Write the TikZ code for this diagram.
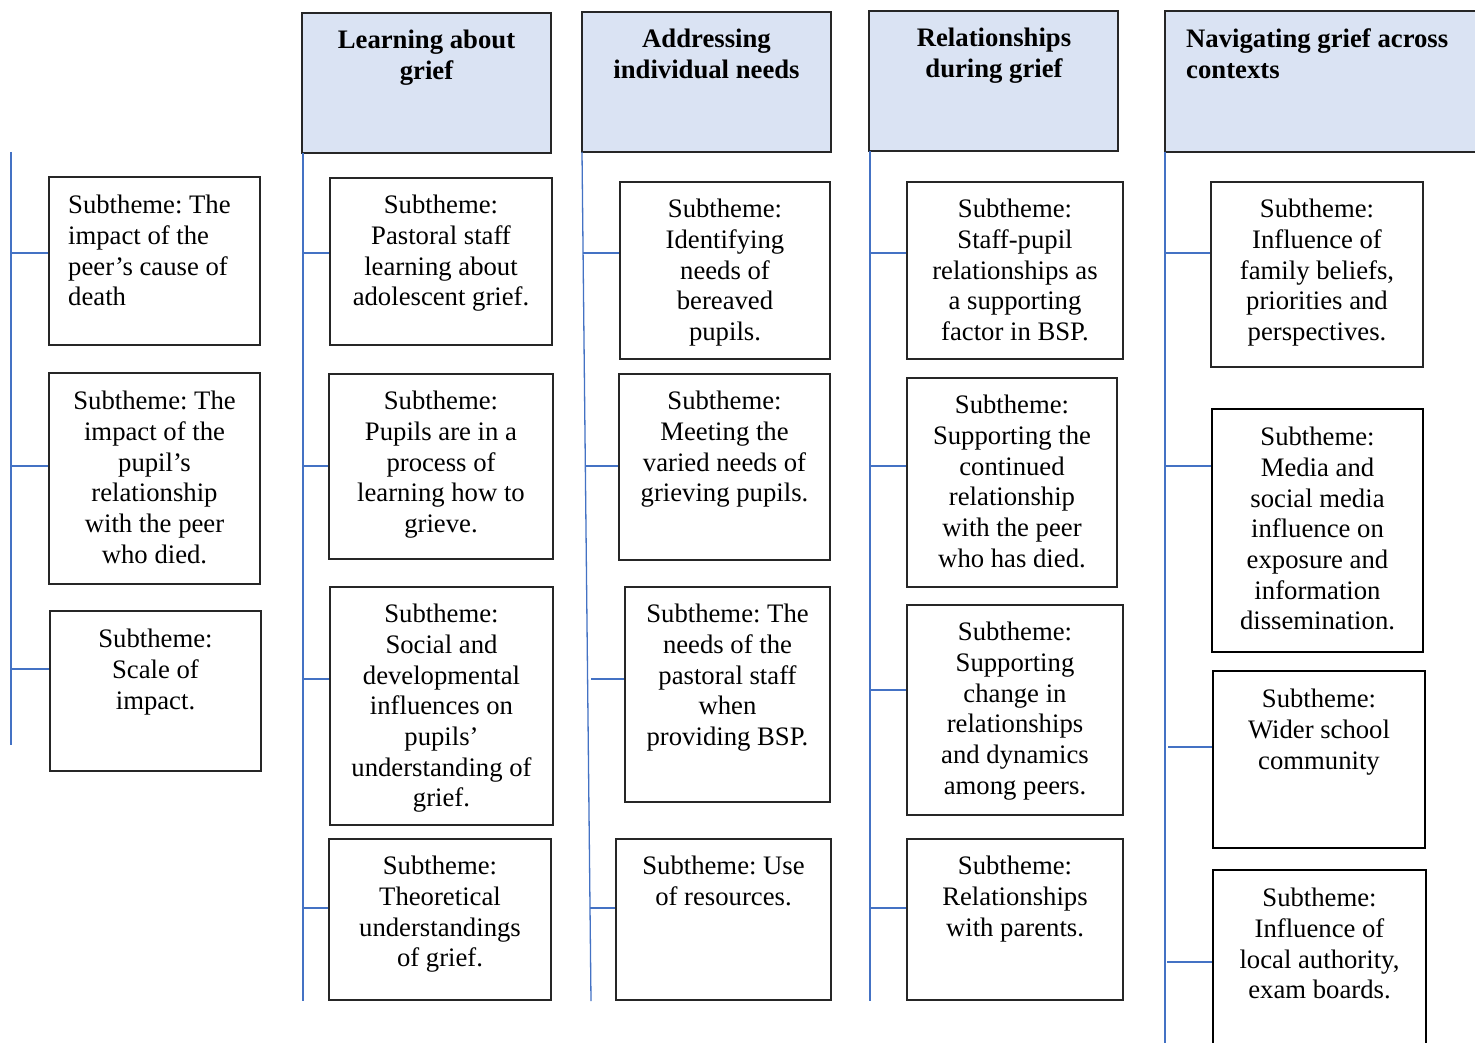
\documentclass[tikz,border=0pt]{standalone}
\usepackage{fontspec}
\setmainfont{Liberation Serif}
\usetikzlibrary{fit}
\definecolor{spineblue}{HTML}{4472C4}
\definecolor{headfill}{HTML}{DAE3F3}
\frenchspacing

\begin{document}
\begin{tikzpicture}[x=1pt,y=-1pt,
  box/.style={draw=black!85, line width=1.3pt, inner sep=0pt},
  thickbox/.style={draw=black, line width=2.4pt, inner sep=0pt},
  headbox/.style={draw=black!85, line width=1.3pt, fill=headfill, inner sep=0pt},
  spine/.style={draw=spineblue, line width=1.3pt},
  txt/.style={inner sep=0pt, align=center, anchor=north, font=\fontsize{26.7}{30.7}\selectfont},
  txtl/.style={txt, align=left, anchor=north west},
  headtxt/.style={txt, font=\fontsize{26.7}{30.7}\selectfont\bfseries},
  headtxtl/.style={headtxt, align=left, anchor=north west}
]
\useasboundingbox (0,0) rectangle (1475,1043);
\clip (0,0) rectangle (1475,1043);
\fill[white] (0,0) rectangle (1475,1043);

% ---------- theme headers ----------
\node[headbox, fit={(302,13) (551,153)}] (h1) {};
\node[headbox, fit={(582,12) (831,152)}] (h2) {};
\node[headbox, fit={(869,11) (1118,151)}] (h3) {};
\node[headbox, fit={(1165,11) (1490,152)}] (h4) {};
\node[headtxt] (h1t) at (426.5,30) {Learning about\\grief};
\node[headtxt] (h2t) at (706.5,29) {Addressing\\individual needs};
\node[headtxt] (h3t) at (994,28) {Relationships\\during grief};
\node[headtxtl] (h4t) at (1186,29) {Navigating grief across\\contexts};

% ---------- spines ----------
\coordinate (s0t) at (11,152);   \coordinate (s0b) at (11,745);
\coordinate (s1t) at (303,153);  \coordinate (s1b) at (303,1001);
\coordinate (s2t) at (582,152);  \coordinate (s2b) at (591,1001);
\coordinate (s3t) at (870,151);  \coordinate (s3b) at (870,1001);
\coordinate (s4t) at (1165,152); \coordinate (s4b) at (1165,1050);
\draw[spine] (s0t) -- (s0b);
\draw[spine] (s1t) -- (s1b);
\draw[spine] (s2t) -- (s2b);
\draw[spine] (s3t) -- (s3b);
\draw[spine] (s4t) -- (s4b);

% ---------- column 0 ----------
\node[box, fit={(49,177) (260,345)}] (b0a) {};
\node[box, fit={(49,373) (260,584)}] (b0b) {};
\node[box, fit={(50,611) (261,771)}] (b0c) {};
\node[txtl] at (68,195) {Subtheme: The\\impact of the\\peer’s cause of\\death};
\node[txt] at (154.5,391) {Subtheme: The\\impact of the\\pupil’s\\relationship\\with the peer\\who died.};
\node[txt] at (155.5,629) {Subtheme:\\Scale of\\impact.};

% ---------- column 1 ----------
\node[box, fit={(330,178) (552,345)}] (b1a) {};
\node[box, fit={(329,374) (553,559)}] (b1b) {};
\node[box, fit={(330,587) (553,825)}] (b1c) {};
\node[box, fit={(329,839) (551,1000)}] (b1d) {};
\node[txt] at (441,195) {Subtheme:\\Pastoral staff\\learning about\\adolescent grief.};
\node[txt] at (441,391) {Subtheme:\\Pupils are in a\\process of\\learning how to\\grieve.};
\node[txt] at (441.5,604) {Subtheme:\\Social and\\developmental\\influences on\\pupils’\\understanding of\\grief.};
\node[txt] at (440,856) {Subtheme:\\Theoretical\\understandings\\of grief.};

% ---------- column 2 ----------
\node[box, fit={(620,182) (830,359)}] (b2a) {};
\node[box, fit={(619,374) (830,560)}] (b2b) {};
\node[box, fit={(625,587) (830,802)}] (b2c) {};
\node[box, fit={(616,839) (831,1000)}] (b2d) {};
\node[txt] at (725,199) {Subtheme:\\Identifying\\needs of\\bereaved\\pupils.};
\node[txt] at (724.5,391) {Subtheme:\\Meeting the\\varied needs of\\grieving pupils.};
\node[txt] at (727.5,604) {Subtheme: The\\needs of the\\pastoral staff\\when\\providing BSP.};
\node[txt] at (723.5,856) {Subtheme: Use\\of resources.};

% ---------- column 3 ----------
\node[box, fit={(907,182) (1123,359)}] (b3a) {};
\node[box, fit={(907,378) (1117,587)}] (b3b) {};
\node[box, fit={(907,605) (1123,815)}] (b3c) {};
\node[box, fit={(907,839) (1123,1000)}] (b3d) {};
\node[txt] at (1015,199) {Subtheme:\\Staff-pupil\\relationships as\\a supporting\\factor in BSP.};
\node[txt] at (1012,395) {Subtheme:\\Supporting the\\continued\\relationship\\with the peer\\who has died.};
\node[txt] at (1015,622) {Subtheme:\\Supporting\\change in\\relationships\\and dynamics\\among peers.};
\node[txt] at (1015,856) {Subtheme:\\Relationships\\with parents.};

% ---------- column 4 ----------
\node[box, fit={(1211,182) (1423,367)}] (b4a) {};
\node[thickbox, fit={(1212,409) (1423,652)}] (b4b) {};
\node[thickbox, fit={(1213,671) (1425,848)}] (b4c) {};
\node[thickbox, fit={(1213,870) (1426,1060)}] (b4d) {};
\node[txt] at (1317,199) {Subtheme:\\Influence of\\family beliefs,\\priorities and\\perspectives.};
\node[txt] at (1317.5,427) {Subtheme:\\Media and\\social media\\influence on\\exposure and\\information\\dissemination.};
\node[txt] at (1319,689) {Subtheme:\\Wider school\\community};
\node[txt] at (1319.5,888) {Subtheme:\\Influence of\\local authority,\\exam boards.};

% ---------- branches from spines to subtheme boxes ----------
\coordinate (c0a) at (11,253);   \coordinate (c0b) at (11,466);   \coordinate (c0c) at (11,669);
\coordinate (c1a) at (303,253);  \coordinate (c1b) at (303,466);  \coordinate (c1c) at (303,679);  \coordinate (c1d) at (303,908);
\coordinate (c2a) at (583,253);  \coordinate (c2b) at (585,466);  \coordinate (c2c) at (591,679);  \coordinate (c2d) at (590,908);
\coordinate (c3a) at (870,253);  \coordinate (c3b) at (870,466);  \coordinate (c3c) at (870,690);  \coordinate (c3d) at (870,908);
\coordinate (c4a) at (1165,253); \coordinate (c4b) at (1165,466); \coordinate (c4c) at (1168,747); \coordinate (c4d) at (1167,962);

\foreach \c/\b in {0a/0a,0b/0b,0c/0c,1a/1a,1b/1b,1c/1c,1d/1d,2a/2a,2b/2b,2c/2c,2d/2d,3a/3a,3b/3b,3c/3c,3d/3d,4a/4a,4b/4b,4c/4c,4d/4d}
  \draw[spine] (c\c) -- (c\c -| b\b.west);

\end{tikzpicture}
\end{document}
